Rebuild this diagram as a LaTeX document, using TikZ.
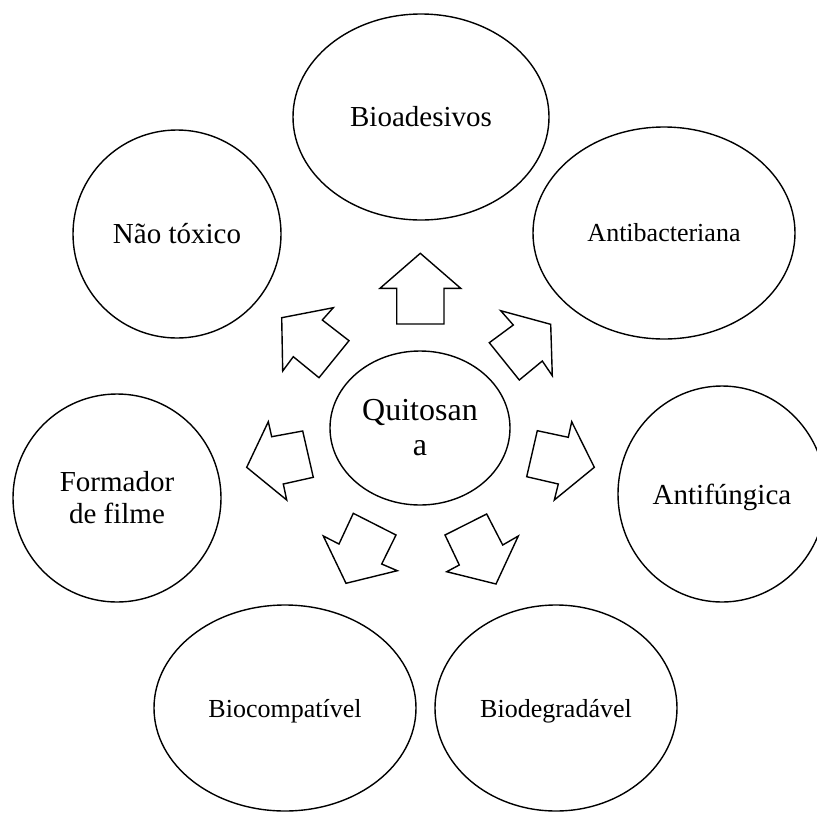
\documentclass[tikz,border=0pt]{standalone}
\usepackage{fontspec}
\setmainfont{Liberation Serif}
\usetikzlibrary{shapes.geometric}
\begin{document}
\begin{tikzpicture}[x=1pt,y=-1pt,
  bubble/.style={draw,ellipse,line width=1.4pt,inner sep=0pt,align=center},
  bigtext/.style={font=\fontsize{29}{32}\selectfont},
  smalltext/.style={font=\fontsize{26}{30}\selectfont},
  centertext/.style={font=\fontsize{32}{35}\selectfont},
  nodepth/.style={text depth=0pt},
  blockarrow/.style={draw,line width=1.4pt,line join=miter}]
\useasboundingbox (0,0) rectangle (817,812);
\clip (0,0) rectangle (817,812);
% central node
\node[bubble,centertext,minimum width=180pt,minimum height=154pt] (quit) at (420,428) {Quitosan\\a};
% outer nodes
\node[bubble,bigtext,minimum width=256pt,minimum height=206pt] (bio) at (421,117) {Bioadesivos};
\node[bubble,bigtext,minimum width=208pt,minimum height=208pt] (nao) at (177,234) {Não tóxico};
\node[bubble,smalltext,minimum width=262pt,minimum height=212pt] (antib) at (664,233) {Antibacteriana};
\node[bubble,bigtext,minimum width=208pt,minimum height=208pt] (form) at (117,498) {Formador\\de filme};
\node[bubble,bigtext,nodepth,minimum width=208pt,minimum height=216pt] (antif) at (722,494) {Antifúngica};
\node[bubble,smalltext,nodepth,minimum width=262pt,minimum height=206pt] (bcomp) at (285,708) {Biocompatível};
\node[bubble,smalltext,nodepth,minimum width=242pt,minimum height=206pt] (bdeg) at (556,708) {Biodegradável};
% block arrows
\draw[blockarrow] (420.3,253.3) -- (460.7,288.3) -- (444,288.3) -- (444,324) -- (396.7,324) -- (396.7,288.3) -- (380,288.3) -- cycle;
\draw[blockarrow] (281.7,317.7) -- (333.3,307.7) -- (322.3,320) -- (349,340.7) -- (319,377.7) -- (293.3,356.7) -- (282.7,371) -- cycle;
\draw[blockarrow] (500.7,310.7) -- (550.7,324.3) -- (552.3,375.7) -- (542.3,361) -- (519.3,380) -- (489.3,342.7) -- (513.3,325) -- cycle;
\draw[blockarrow] (268.3,421.7) -- (271.7,436.7) -- (302.7,431) -- (313.3,477.3) -- (283.3,484) -- (286.7,500) -- (246.7,467.3) -- cycle;
\draw[blockarrow] (537.3,430.7) -- (568.3,437.3) -- (571.7,421.7) -- (594.3,467.3) -- (554.3,500) -- (558.3,484) -- (526.7,476.7) -- cycle;
\draw[blockarrow] (353.3,513.3) -- (396,535) -- (381.7,564) -- (397.3,570.7) -- (346,583.3) -- (323.3,536) -- (339,544) -- cycle;
\draw[blockarrow] (445,535) -- (486.7,514) -- (502.7,545) -- (518.3,536) -- (496,584) -- (446.7,571.7) -- (459.3,565) -- cycle;
\end{tikzpicture}
\end{document}
